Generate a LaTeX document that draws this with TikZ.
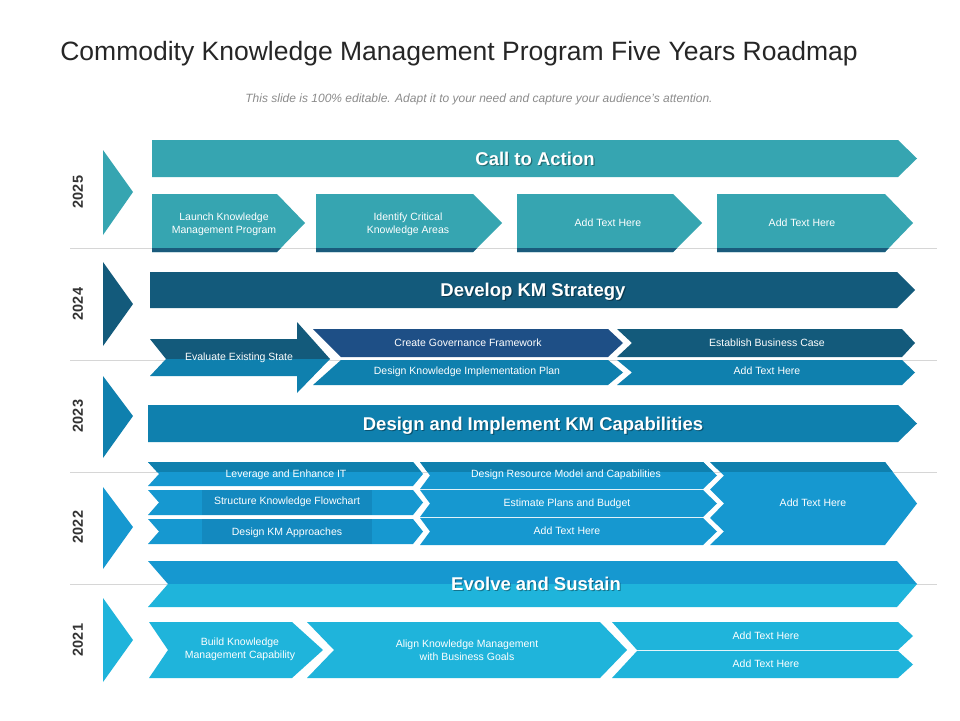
\documentclass[tikz,border=0pt]{standalone}
\usepackage{fontspec}
\setmainfont{Liberation Sans}
\definecolor{cteal}{HTML}{36A5B1}
\definecolor{cstrip}{HTML}{1A5B7C}
\definecolor{ctf}{HTML}{135A7B}
\definecolor{cgov}{HTML}{1E4F86}
\definecolor{ctt}{HTML}{0F80AE}
\definecolor{ctw}{HTML}{1698D0}
\definecolor{ctwd}{HTML}{1389BF}
\definecolor{con}{HTML}{1FB4DB}
\definecolor{gline}{HTML}{D6D6D6}
\definecolor{ttl}{HTML}{262626}
\definecolor{subc}{HTML}{8C8C8C}
\definecolor{yrc}{HTML}{333333}
\tikzset{
  smalltxt/.style={text=white, font=\fontsize{10.5}{13}\selectfont, align=center, inner sep=0pt, text depth=0pt},
  bigtxt/.style={text=white, font=\fontsize{18.5}{22}\selectfont\bfseries, inner sep=0pt, text depth=0pt},
  bigshadow/.style={bigtxt, text=black, opacity=0.35},
  yeartxt/.style={text=yrc, font=\fontsize{14.5}{16}\selectfont\bfseries, rotate=90, inner sep=0pt},
  sepline/.style={draw=gline, line width=0.8pt}
}
\begin{document}
\begin{tikzpicture}[x=1pt,y=-1pt]
\useasboundingbox (0,0) rectangle (960,720);
\fill[white] (0,0) rectangle (960,720);

% title
\node[text=ttl, font=\fontsize{26.5}{30}\selectfont, inner sep=0pt] (title) at (459,54) {Commodity Knowledge Management Program Five Years Roadmap};
\node[text=subc, font=\fontsize{12}{14}\selectfont\itshape, inner sep=0pt, text depth=0pt] (subtitle) at (479,98) {This slide is 100\% editable. Adapt it to your need and capture your audience’s attention.};

% separator lines
\draw[sepline] (70,248) -- (937,248);
\draw[sepline] (70,360.5) -- (937,360.5);
\draw[sepline] (70,472) -- (937,472);
\draw[sepline] (70,584) -- (937,584);

% year triangles
\fill[cteal] (103,150) -- (133,192) -- (103,235) -- cycle;
\fill[ctf] (103,262) -- (133,304) -- (103,346) -- cycle;
\fill[ctt] (103,376) -- (133,416) -- (103,458) -- cycle;
\fill[ctw] (103,487) -- (133,527) -- (103,569) -- cycle;
\fill[con] (103,598) -- (133,640) -- (103,682) -- cycle;
\node[yeartxt] (y2025) at (78,192) {2025};
\node[yeartxt] (y2024) at (78,304) {2024};
\node[yeartxt] (y2023) at (78,416) {2023};
\node[yeartxt] (y2022) at (78,527) {2022};
\node[yeartxt] (y2021) at (78,640) {2021};

% ===== 2025 =====
\fill[cteal] (152,140) -- (898,140) -- (917,158.5) -- (898,177) -- (152,177) -- cycle;
\node[bigshadow] (callsh) at (536.2,159.7) {Call to Action};
\node[bigtxt] (call) at (535,158.5) {Call to Action};

\fill[cteal] (152,194) -- (277,194) -- (305,223) -- (277,252) -- (152,252) -- cycle;
\fill[cteal] (316,194) -- (473,194) -- (502,223) -- (473,252) -- (316,252) -- cycle;
\fill[cteal] (517,194) -- (673,194) -- (702,223) -- (673,252) -- (517,252) -- cycle;
\fill[cteal] (717,194) -- (885,194) -- (913,223) -- (885,252) -- (717,252) -- cycle;
\fill[cstrip] (152,248) -- (280.9,248) -- (277,252) -- (152,252) -- cycle;
\fill[cstrip] (316,248) -- (477,248) -- (473,252) -- (316,252) -- cycle;
\fill[cstrip] (517,248) -- (677,248) -- (673,252) -- (517,252) -- cycle;
\fill[cstrip] (717,248) -- (888.9,248) -- (885,252) -- (717,252) -- cycle;
\node[smalltxt] (launch) at (224,223) {Launch Knowledge\\Management  Program};
\node[smalltxt] (identify) at (408,223) {Identify Critical\\Knowledge Areas};
\node[smalltxt] (a25a) at (608,223) {Add Text Here};
\node[smalltxt] (a25b) at (802,223) {Add Text Here};

% ===== 2024 =====
\fill[ctf] (150,272) -- (897,272) -- (915,290) -- (897,308) -- (150,308) -- cycle;
\node[bigshadow] (devsh) at (534.2,291.2) {Develop KM Strategy};
\node[bigtxt] (dev) at (533,290) {Develop KM Strategy};

\fill[ctf] (150,339) -- (297,339) -- (297,322) -- (330,359) -- (166,359) -- cycle;
\fill[ctt] (166,359) -- (330,359) -- (297,393) -- (297,376) -- (150,376) -- cycle;
\node[smalltxt] (evaluate) at (239,357) {Evaluate Existing State};

\fill[cgov] (313,329) -- (608,329) -- (623,343) -- (608,357) -- (341,357) -- cycle;
\fill[ctt] (341,360) -- (608,360) -- (623,372.5) -- (608,385) -- (313,385) -- cycle;
\fill[ctf] (617,329) -- (902,329) -- (915,343) -- (902,357) -- (617,357) -- (632,343) -- cycle;
\fill[ctt] (617,360) -- (902,360) -- (915,372.5) -- (902,385) -- (617,385) -- (632,372.5) -- cycle;
\node[smalltxt] (gov) at (468,343) {Create Governance Framework};
\node[smalltxt] (dki) at (467,371) {Design Knowledge Implementation  Plan};
\node[smalltxt] (ebc) at (767,343) {Establish Business Case};
\node[smalltxt] (a24) at (767,371) {Add Text Here};

% ===== 2023 =====
\fill[ctt] (148,405) -- (898,405) -- (917,423.5) -- (898,442) -- (148,442) -- cycle;
\node[bigshadow] (dimsh) at (534.2,424.7) {Design and Implement KM Capabilities};
\node[bigtxt] (dim) at (533,423.5) {Design and Implement KM Capabilities};

% ===== 2022 grid =====
\fill[ctw] (148,462) -- (413,462) -- (423,474) -- (413,486) -- (148,486) -- (159,474) -- cycle;
\fill[ctw] (148,490) -- (413,490) -- (423,502.5) -- (413,515) -- (148,515) -- (159,502.5) -- cycle;
\fill[ctw] (148,519) -- (413,519) -- (423,531.5) -- (413,544) -- (148,544) -- (159,531.5) -- cycle;
\fill[ctwd] (202,490) rectangle (372,515);
\fill[ctwd] (202,519) rectangle (372,544);
\fill[ctw] (420,462) -- (703,462) -- (717,475.5) -- (703,489) -- (420,489) -- (430,475.5) -- cycle;
\fill[ctw] (420,490) -- (703,490) -- (717,503.5) -- (703,517) -- (420,517) -- (430,503.5) -- cycle;
\fill[ctw] (420,518) -- (703,518) -- (717,531.5) -- (703,545) -- (420,545) -- (430,531.5) -- cycle;
\fill[ctw] (710,462) -- (885,462) -- (917,503.5) -- (885,545) -- (710,545) -- (724,531.5) -- (710,518) -- (724,503.5) -- (710,489.5) -- (724,475.5) -- cycle;
% darker top band (y < 472)
\begin{scope}
  \clip (148,462) -- (413,462) -- (423,474) -- (413,486) -- (148,486) -- (159,474) -- cycle;
  \fill[ctt] (140,455) rectangle (430,472);
\end{scope}
\begin{scope}
  \clip (420,462) -- (703,462) -- (717,475.5) -- (703,489) -- (420,489) -- (430,475.5) -- cycle;
  \fill[ctt] (415,455) rectangle (720,472);
\end{scope}
\begin{scope}
  \clip (710,462) -- (885,462) -- (917,503.5) -- (885,545) -- (710,545) -- (724,531.5) -- (710,518) -- (724,503.5) -- (710,489.5) -- (724,475.5) -- cycle;
  \fill[ctt] (705,455) rectangle (920,472);
\end{scope}
\node[smalltxt] (leverage) at (286,474) {Leverage and Enhance IT};
\node[smalltxt] (structure) at (287,501) {Structure Knowledge Flowchart};
\node[smalltxt] (dkma) at (287,532) {Design KM  Approaches};
\node[smalltxt] (drm) at (566,474) {Design Resource Model and Capabilities};
\node[smalltxt] (epb) at (567,503) {Estimate  Plans and Budget};
\node[smalltxt] (a22a) at (567,531) {Add Text Here};
\node[smalltxt] (a22b) at (813,503) {Add Text Here};

% ===== 2021 =====
\fill[ctw] (148,561) -- (897,561) -- (917,584) -- (168,584) -- cycle;
\fill[con] (168,584) -- (917,584) -- (897,607) -- (148,607) -- cycle;
\node[bigshadow] (evosh) at (537.2,585.2) {Evolve and Sustain};
\node[bigtxt] (evo) at (536,584) {Evolve and Sustain};

\fill[con] (149,622) -- (292,622) -- (323,650) -- (292,678) -- (149,678) -- (168,650) -- cycle;
\fill[con] (307,622) -- (600,622) -- (627,650) -- (600,678) -- (307,678) -- (334,650) -- cycle;
\fill[con] (612,622) -- (898,622) -- (913,636) -- (898,650) -- (637,650) -- cycle;
\fill[con] (637,651) -- (898,651) -- (913,664.5) -- (898,678) -- (612,678) -- cycle;
\node[smalltxt] (build) at (240,648) {Build  Knowledge\\Management  Capability};
\node[smalltxt] (align) at (467,650) {Align Knowledge Management\\with Business Goals};
\node[smalltxt] (a21a) at (766,636) {Add Text Here};
\node[smalltxt] (a21b) at (766,664) {Add Text Here};
\end{tikzpicture}
\end{document}
